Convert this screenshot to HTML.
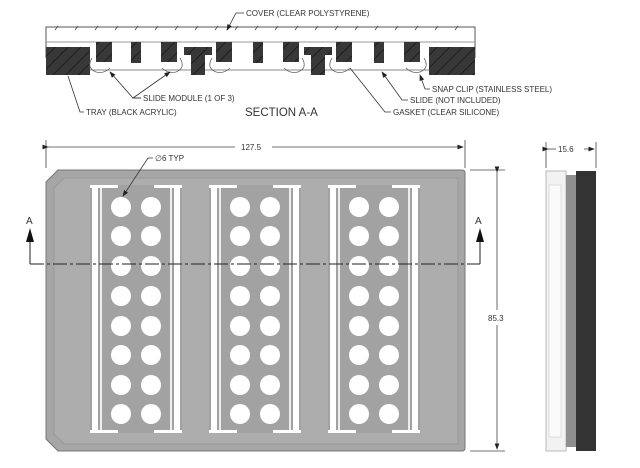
<!DOCTYPE html>
<html><head><style>
body{margin:0;background:#fff;}
svg{display:block;font-family:"Liberation Sans",sans-serif;}
</style></head><body>
<svg width="640" height="468" viewBox="0 0 640 468" xmlns="http://www.w3.org/2000/svg">
<defs>
<pattern id="h" width="9" height="9" patternUnits="userSpaceOnUse" patternTransform="rotate(45)">
<rect width="9" height="9" fill="#383838"/><line x1="0" y1="0" x2="0" y2="9" stroke="#151515" stroke-width="1.5"/>
</pattern>
<marker id="ar" markerWidth="8" markerHeight="6" refX="7" refY="3" orient="auto"><path d="M0,0 L8,3 L0,6z" fill="#222"/></marker>
</defs>
<!-- SECTION -->
<g stroke="#555" fill="none" stroke-width="1">
<path d="M46,58 L46,27 L475,27 L475,58"/>
<path d="M46,42 L475,42" stroke="#999"/>
<path d="M90,70 L475,70" stroke="#888"/>
</g>
<g stroke="#444" stroke-width="0.8">
<line x1="55" y1="30" x2="58" y2="26"/><line x1="75" y1="30" x2="78" y2="26"/><line x1="95" y1="30" x2="98" y2="26"/><line x1="115" y1="30" x2="118" y2="26"/><line x1="135" y1="30" x2="138" y2="26"/><line x1="155" y1="30" x2="158" y2="26"/><line x1="175" y1="30" x2="178" y2="26"/><line x1="195" y1="30" x2="198" y2="26"/><line x1="215" y1="30" x2="218" y2="26"/><line x1="235" y1="30" x2="238" y2="26"/><line x1="255" y1="30" x2="258" y2="26"/><line x1="275" y1="30" x2="278" y2="26"/><line x1="295" y1="30" x2="298" y2="26"/><line x1="315" y1="30" x2="318" y2="26"/><line x1="335" y1="30" x2="338" y2="26"/><line x1="355" y1="30" x2="358" y2="26"/><line x1="375" y1="30" x2="378" y2="26"/><line x1="395" y1="30" x2="398" y2="26"/><line x1="415" y1="30" x2="418" y2="26"/><line x1="435" y1="30" x2="438" y2="26"/><line x1="455" y1="30" x2="458" y2="26"/>
</g>
<g fill="url(#h)">
<path d="M46,47 L90,47 L90,75 L46,75z"/>
<path d="M184,47 L212,47 L212,55 L205,55 L205,75 L191,75 L191,55 L184,55z"/>
<path d="M304,47 L332,47 L332,55 L325,55 L325,75 L311,75 L311,55 L304,55z"/>
<path d="M429,47 L475,47 L475,75 L429,75z"/>
<rect x="96" y="42" width="16" height="20"/><rect x="131" y="42" width="10" height="21"/><rect x="161" y="42" width="16" height="20"/>
<rect x="216" y="42" width="16" height="20"/><rect x="253" y="42" width="10" height="21"/><rect x="283" y="42" width="16" height="20"/>
<rect x="336" y="42" width="16" height="20"/><rect x="374" y="42" width="10" height="21"/><rect x="404" y="42" width="16" height="20"/>
</g>
<g stroke="#666" fill="none" stroke-width="0.8">
<path d="M92,58 q-6,10 4,14 q8,2 14,-4"/><path d="M180,58 q6,10 -4,14 q-8,2 -14,-4"/>
<path d="M212,58 q-6,10 4,14 q8,2 14,-4"/><path d="M302,58 q6,10 -4,14 q-8,2 -14,-4"/>
<path d="M332,58 q-6,10 4,14 q8,2 14,-4"/><path d="M424,58 q6,10 -4,14 q-8,2 -14,-4"/>
</g>
<g font-size="8" fill="#333">
<text x="246" y="16">COVER (CLEAR POLYSTYRENE)</text>
<text x="143" y="101">SLIDE MODULE (1 OF 3)</text>
<text x="86" y="115">TRAY (BLACK ACRYLIC)</text>
<text x="432" y="92">SNAP CLIP (STAINLESS STEEL)</text>
<text x="410" y="103">SLIDE (NOT INCLUDED)</text>
<text x="393" y="115">GASKET (CLEAR SILICONE)</text>
<text x="245" y="116" font-size="11.5">SECTION A-A</text>
</g>
<g stroke="#333" stroke-width="0.8" fill="none">
<polyline points="244,13 236,13 227,30" marker-end="url(#ar)"/>
<polyline points="141,98 133,98 110,72" marker-end="url(#ar)"/>
<polyline points="141,98 133,98 170,72" marker-end="url(#ar)"/>
<polyline points="84,112 80,112 68,76"/>
<polyline points="430,89 425,89 420,75" marker-end="url(#ar)"/>
<polyline points="408,100 402,100 382,72" marker-end="url(#ar)"/>
<polyline points="391,112 385,112 350,68"/>
</g>
<!-- dimensions -->
<g stroke="#444" stroke-width="0.8" fill="none">
<line x1="46" y1="140" x2="46" y2="168"/><line x1="465" y1="140" x2="465" y2="168"/>
<line x1="48" y1="147" x2="235" y2="147" marker-start="url(#ar)"/>
<line x1="272" y1="147" x2="463" y2="147" marker-end="url(#ar)"/>
<line x1="470" y1="170" x2="505" y2="170"/><line x1="470" y1="451" x2="505" y2="451"/>
<line x1="497" y1="172" x2="497" y2="310" marker-start="url(#ar)"/>
<line x1="497" y1="325" x2="497" y2="449" marker-end="url(#ar)"/>
<line x1="546" y1="142" x2="546" y2="168"/><line x1="596" y1="142" x2="596" y2="168"/>
<line x1="548" y1="149" x2="556" y2="149" marker-start="url(#ar)"/>
<line x1="584" y1="149" x2="594" y2="149" marker-end="url(#ar)"/>
</g>
<g font-size="8" fill="#333">
<text x="241" y="150">127.5</text>
<text x="488" y="321">85.3</text>
<text x="558" y="152">15.6</text>
<text x="155" y="161">∅6 TYP</text>
<text x="26" y="224" font-size="10">A</text>
<text x="475" y="224" font-size="10">A</text>
</g>
<!-- plate -->
<path d="M58,170 L462,170 Q465,170 465,173 L465,448 Q465,451 462,451 L58,451 L46,439 L46,182z" fill="#a6a6a6" stroke="#777"/>
<path d="M64,178 L458,178 L458,444 L64,444 L54,434 L54,188z" fill="#adadad" stroke="#999" stroke-width="1"/>
<g id="mod">
<rect x="90" y="185" width="92" height="248" fill="#a2a2a2"/>
<rect x="90" y="185" width="28" height="3" fill="#fff"/><rect x="154" y="185" width="28" height="3" fill="#fff"/>
<rect x="90" y="430" width="28" height="3" fill="#fff"/><rect x="154" y="430" width="28" height="3" fill="#fff"/>
<rect x="92" y="185" width="6" height="248" fill="#fff"/><rect x="100" y="188" width="2" height="242" fill="#eee"/>
<rect x="174" y="185" width="6" height="248" fill="#fff"/><rect x="170" y="188" width="2" height="242" fill="#eee"/>
<g fill="#fff">
<circle cx="121" cy="207" r="10"/><circle cx="151" cy="207" r="10"/>
<circle cx="121" cy="236" r="10"/><circle cx="151" cy="236" r="10"/>
<circle cx="121" cy="266" r="10"/><circle cx="151" cy="266" r="10"/>
<circle cx="121" cy="296" r="10"/><circle cx="151" cy="296" r="10"/>
<circle cx="121" cy="326" r="10"/><circle cx="151" cy="326" r="10"/>
<circle cx="121" cy="355" r="10"/><circle cx="151" cy="355" r="10"/>
<circle cx="121" cy="385" r="10"/><circle cx="151" cy="385" r="10"/>
<circle cx="121" cy="414" r="10"/><circle cx="151" cy="414" r="10"/>
</g>
</g>
<use href="#mod" x="119"/>
<use href="#mod" x="238"/>
<polyline points="153,158 148,158 123,196" stroke="#333" stroke-width="0.8" fill="none" marker-end="url(#ar)"/>
<!-- section line -->
<g stroke="#222" stroke-width="1" fill="none">
<line x1="30" y1="264" x2="480" y2="264" stroke-dasharray="14,3,3,3"/>
<line x1="30" y1="264" x2="30" y2="240"/>
<line x1="480" y1="264" x2="480" y2="240"/>
</g>
<path d="M30,228 L26,242 L34,242z" fill="#111"/>
<path d="M480,228 L476,242 L484,242z" fill="#111"/>
<!-- side view -->
<rect x="546" y="171" width="20" height="280" fill="#f2f2f2" stroke="#bbb"/>
<rect x="549" y="185" width="12" height="252" fill="#fafafa" stroke="#ddd"/>
<rect x="566" y="175" width="10" height="272" fill="#8f8f8f"/>
<rect x="576" y="171" width="20" height="280" fill="#333"/>
</svg>
</body></html>
